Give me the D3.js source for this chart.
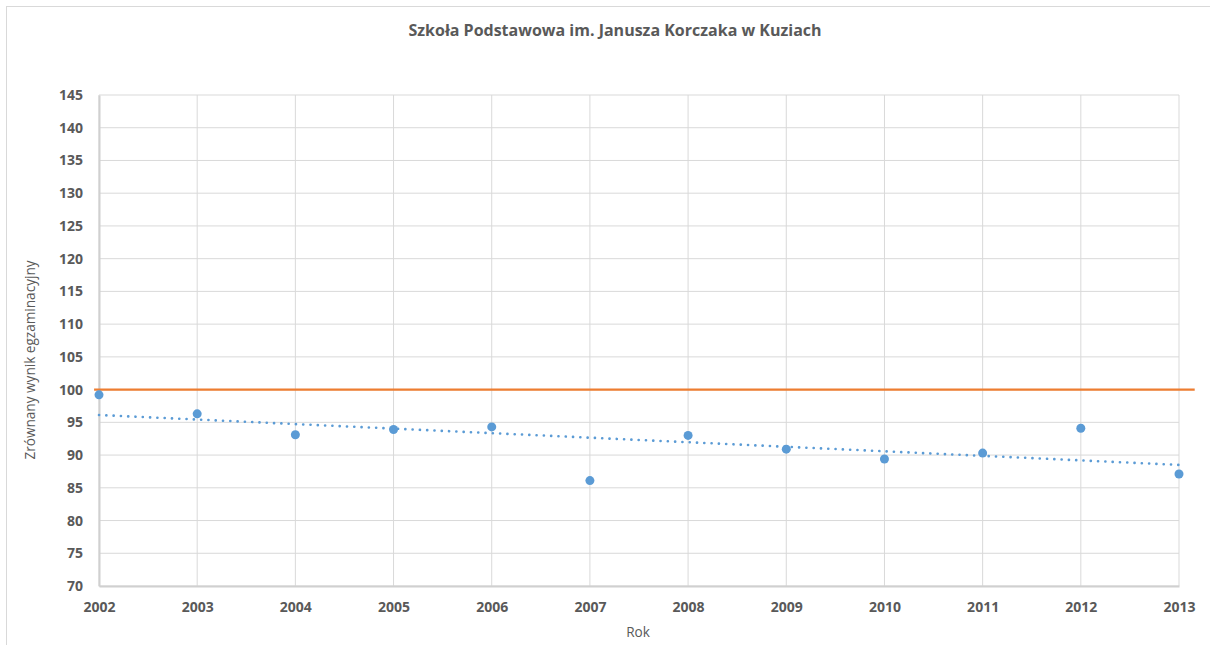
<!DOCTYPE html>
<html>
<head>
<meta charset="utf-8">
<script src="https://cdn.jsdelivr.net/npm/d3@7.9.0/dist/d3.min.js"></script>
<style>
  body { margin: 0; background: #fff; }
  svg { display: block; font-family: "Open Sans", sans-serif; }
  .tick text { fill: #595959; font-weight: bold; font-size: 14px; font-family: "Open Sans", sans-serif; }
</style>
</head>
<body>
<svg width="1210" height="645"></svg>
<script>
// data
const years = [2002, 2003, 2004, 2005, 2006, 2007, 2008, 2009, 2010, 2011, 2012, 2013];
const scores = [99.2, 96.3, 93.1, 93.9, 94.3, 86.1, 93.0, 90.9, 89.4, 90.3, 94.1, 87.1];
const refYears = [2001.95, 2013.16];
const refValues = [100, 100];
const yTicks = [70, 75, 80, 85, 90, 95, 100, 105, 110, 115, 120, 125, 130, 135, 140, 145];

const svg = d3.select('svg');
const margin = {left: 99, right: 31, top: 95, bottom: 59};
const W = 1210, H = 645;

// chart frame (runs off the right/bottom edge)
svg.append('rect')
  .attr('x', 6.5).attr('y', 6.5)
  .attr('width', 1220).attr('height', 660)
  .attr('fill', 'none').attr('stroke', '#d9d9d9');

let x = d3.scaleLinear().domain([2002, 2013]).range([margin.left, W - margin.right]);
let y = d3.scaleLinear().domain([70, 145]).range([H - margin.bottom, margin.top]);

// grid
svg.append('g').selectAll('line').data(yTicks).join('line')
  .attr('x1', x(2002)).attr('x2', x(2013))
  .attr('y1', d => y(d)).attr('y2', d => y(d))
  .attr('stroke', '#d9d9d9').attr('stroke-width', 1);
svg.append('g').selectAll('line').data(years).join('line')
  .attr('x1', d => x(d)).attr('x2', d => x(d))
  .attr('y1', y(70)).attr('y2', y(145))
  .attr('stroke', '#d9d9d9').attr('stroke-width', 1);

// axes
let yAxis = d3.axisLeft(y).tickValues(yTicks).tickSize(0).tickPadding(16);
let gy = svg.append('g').attr('transform', `translate(${x(2002)},0)`).call(yAxis);
gy.select('.domain').attr('stroke', '#d0d0d0').attr('stroke-width', 2);

let xAxis = d3.axisBottom(x).tickValues(years).tickFormat(d3.format('d')).tickSize(0).tickPadding(16);
let gx = svg.append('g').attr('transform', `translate(0,${y(70)})`).call(xAxis);
gx.select('.domain').attr('stroke', '#d0d0d0').attr('stroke-width', 2);

// reference line (orange)
let refData = refYears.map((d, i) => ({year: d, value: refValues[i]}));
svg.append('path')
  .datum(refData)
  .attr('d', d3.line().x(d => x(d.year)).y(d => y(d.value)))
  .attr('stroke', '#ED7D31').attr('stroke-width', 2.25).attr('fill', 'none');

// linear trend of the scores
let mx = d3.mean(years), my = d3.mean(scores);
let slope = d3.sum(years, (d, i) => (d - mx) * (scores[i] - my)) / d3.sum(years, d => (d - mx) ** 2);
let trend = [2002, 2013].map(d => ({year: d, value: my + slope * (d - mx)}));
svg.append('path')
  .datum(trend)
  .attr('d', d3.line().x(d => x(d.year)).y(d => y(d.value)))
  .attr('stroke', '#5B9BD5').attr('stroke-width', 2.6)
  .attr('stroke-dasharray', '0.1 7.2').attr('stroke-linecap', 'round')
  .attr('fill', 'none');

// points
svg.append('g').selectAll('circle').data(years).join('circle')
  .attr('cx', d => x(d))
  .attr('cy', (d, i) => y(scores[i]))
  .attr('r', 4.5)
  .attr('fill', '#5B9BD5');

// titles
svg.append('text')
  .attr('x', 615).attr('y', 36)
  .attr('text-anchor', 'middle')
  .attr('fill', '#595959').attr('font-weight', 'bold').attr('font-size', 16)
  .text('Szkoła Podstawowa im. Janusza Korczaka w Kuziach');

svg.append('text')
  .attr('transform', 'translate(35,360) rotate(-90)')
  .attr('text-anchor', 'middle')
  .attr('fill', '#595959').attr('font-size', 13.6)
  .text('Zrównany wynik egzaminacyjny');

svg.append('text')
  .attr('x', 638).attr('y', 637)
  .attr('text-anchor', 'middle')
  .attr('fill', '#595959').attr('font-size', 13.6)
  .text('Rok');
</script>
</body>
</html>
